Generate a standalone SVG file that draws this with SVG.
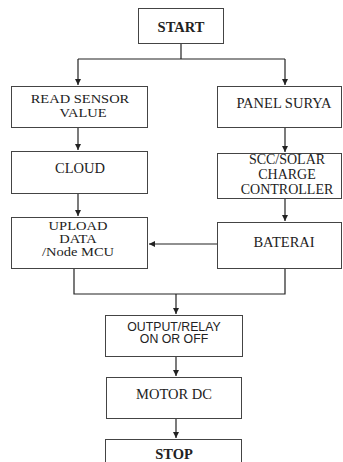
<svg xmlns="http://www.w3.org/2000/svg" width="343" height="462" viewBox="0 0 343 462">
<style>
.box{fill:#fff;stroke:#444;stroke-width:1}
.t{font-family:"Liberation Serif","Times New Roman",serif;font-size:14.5px;fill:#222;text-anchor:middle}
.b{font-weight:bold}
.s{font-family:"Liberation Sans",Arial,sans-serif;font-size:12.3px;fill:#222;text-anchor:middle}
.c{fill:none;stroke:#222;stroke-width:1.2}
</style>
<defs>
<marker id="ah" markerWidth="8" markerHeight="8" refX="6" refY="3" orient="auto" markerUnits="userSpaceOnUse">
<path d="M0,0 L6,3 L0,6 Z" fill="#222"/>
</marker>
</defs>
<rect width="343" height="462" fill="#fff"/>
<g id="connectors">
<path class="c" d="M181,43 V59 M78,59 H285"/>
<path class="c" d="M78,59 V85" marker-end="url(#ah)"/>
<path class="c" d="M285,59 V85" marker-end="url(#ah)"/>
<path class="c" d="M78,127 V150" marker-end="url(#ah)"/>
<path class="c" d="M285,127 V152" marker-end="url(#ah)"/>
<path class="c" d="M78,193 V216" marker-end="url(#ah)"/>
<path class="c" d="M285,198 V221" marker-end="url(#ah)"/>
<path class="c" d="M217,244 H149" marker-end="url(#ah)"/>
<path class="c" d="M74,268 V294 H285 V268"/>
<path class="c" d="M176,294 V314" marker-end="url(#ah)"/>
<path class="c" d="M176,356 V376" marker-end="url(#ah)"/>
<path class="c" d="M176,418 V438" marker-end="url(#ah)"/>
</g>
<g id="start"><rect class="box" x="138.5" y="8.5" width="85" height="35"/><text class="t b" x="181" y="32">START</text></g>
<g id="read"><rect class="box" x="11.5" y="86.5" width="136" height="41"/><text class="t" transform="matrix(1,0,0,0.9,0,0)"><tspan x="80" y="114.44">READ SENSOR</tspan><tspan x="83" y="130">VALUE</tspan></text></g>
<g id="panel"><rect class="box" x="217.5" y="86.5" width="124" height="41"/><text class="t" x="284" y="108">PANEL SURYA</text></g>
<g id="cloud"><rect class="box" x="11.5" y="151.5" width="136" height="42"/><text class="t" x="80" y="173">CLOUD</text></g>
<g id="scc"><rect class="box" x="217.5" y="153.5" width="124" height="45"/><text class="t" style="font-size:14px"><tspan x="287" y="164">SCC/SOLAR</tspan><tspan x="287" y="179">CHARGE</tspan><tspan x="287" y="194">CONTROLLER</tspan></text></g>
<g id="upload"><rect class="box" x="11.5" y="217.5" width="136" height="51"/><text class="t" transform="matrix(1,0,0,0.86,0,0)"><tspan x="78" y="267.44">UPLOAD</tspan><tspan x="78" y="282.56">DATA</tspan><tspan x="78" y="297.67">/Node MCU</tspan></text></g>
<g id="baterai"><rect class="box" x="217.5" y="222.5" width="124" height="46"/><text class="t" x="284" y="247">BATERAI</text></g>
<g id="output"><rect class="box" x="105.5" y="315.5" width="137" height="41"/><text class="s"><tspan x="174" y="330.5">OUTPUT/RELAY</tspan><tspan x="174" y="343">ON OR OFF</tspan></text></g>
<g id="motor"><rect class="box" x="106.5" y="377.5" width="135" height="41"/><text class="t" x="174" y="399">MOTOR DC</text></g>
<g id="stop"><rect class="box" x="105.5" y="439.5" width="136" height="30"/><text class="t b" x="174" y="459">STOP</text></g>
</svg>
